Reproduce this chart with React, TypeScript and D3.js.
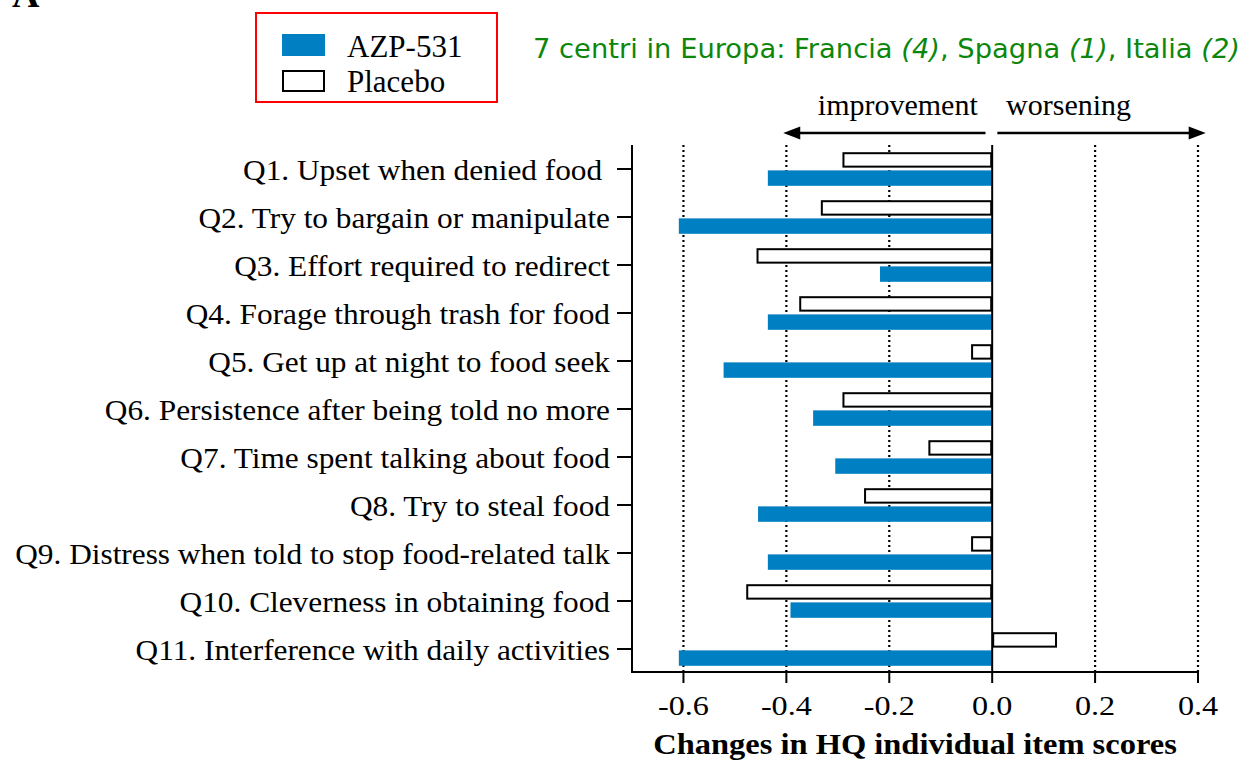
import React from "react";
import * as d3 from "d3";

// HQ items, top to bottom
const categories = [
  "Q1. Upset when denied food ",
  "Q2. Try to bargain or manipulate",
  "Q3. Effort required to redirect",
  "Q4. Forage through trash for food",
  "Q5. Get up at night to food seek",
  "Q6. Persistence after being told no more",
  "Q7. Time spent talking about food",
  "Q8. Try to steal food",
  "Q9. Distress when told to stop food-related talk",
  "Q10. Cleverness in obtaining food",
  "Q11. Interference with daily activities",
];
const seriesNames = ["Placebo", "AZP-531"];
const placeboValues = [-0.291, -0.333, -0.458, -0.375, -0.041, -0.291, -0.124, -0.249, -0.041, -0.478, 0.126];
const azpValues = [-0.436, -0.609, -0.218, -0.436, -0.522, -0.348, -0.305, -0.455, -0.436, -0.392, -0.609];
const xTicks = [-0.6, -0.4, -0.2, 0.0, 0.2, 0.4];

const BLUE = "#0080c3";
const SERIF = "'Liberation Serif', 'Times New Roman', serif";

const App = () => {
  const width = 1243;
  const height = 761;
  const margin = { top: 145, left: 632, right: 45, bottom: 88 };

  const x = d3.scaleLinear().domain([-0.7, 0.4]).range([margin.left, width - margin.right]);
  const y = d3
    .scaleBand()
    .domain(categories)
    .range([margin.top, height - margin.bottom])
    .paddingInner(0.3)
    .paddingOuter(0.15);
  const inner = d3.scaleBand().domain(seriesNames).range([0, y.bandwidth()]).paddingInner(0.15);
  const plotTop = margin.top;
  const plotBottom = height - margin.bottom - 1;

  const tickY = (c) => y(c) + y.bandwidth() / 2;
  const arrowY = 133;

  return (
    <svg
      width={width}
      height={height}
      style={{ position: "absolute", left: 0, top: 0, background: "#fff" }}
      fontFamily={SERIF}
    >
      {/* panel letter, cut at the top */}
      <text x={12} y={7} fontSize={38} fontWeight="bold">A</text>

      {/* legend */}
      <rect x={256} y={13} width={241} height={89} fill="none" stroke="#ff0000" strokeWidth={2} />
      <rect x={282} y={34} width={43} height={22} fill={BLUE} />
      <rect x={283} y={71} width={41} height={20} fill="#fff" stroke="#000" strokeWidth={2} />
      <text x={347} y={57} fontSize={31}>AZP-531</text>
      <text x={347} y={92} fontSize={31}>Placebo</text>

      {/* note */}
      <text
        x={533}
        y={58}
        fontSize={26}
        fill="#0c870c"
        fontFamily="'DejaVu Sans', sans-serif"
        textLength={707}
        lengthAdjust="spacingAndGlyphs"
      >
        7 centri in Europa: Francia <tspan fontStyle="italic">(4)</tspan>, Spagna{" "}
        <tspan fontStyle="italic">(1)</tspan>, Italia <tspan fontStyle="italic">(2)</tspan>
      </text>

      {/* direction arrows */}
      <g stroke="#000" strokeWidth={2.5}>
        <line x1={x(-0.013)} x2={x(-0.39)} y1={arrowY} y2={arrowY} />
        <line x1={x(0.01)} x2={x(0.4)} y1={arrowY} y2={arrowY} />
      </g>
      <polygon
        points={`${x(-0.406)},${arrowY} ${x(-0.406) + 17},${arrowY - 6.5} ${x(-0.406) + 17},${arrowY + 6.5}`}
        fill="#000"
      />
      <polygon
        points={`${x(0.415)},${arrowY} ${x(0.415) - 17},${arrowY - 6.5} ${x(0.415) - 17},${arrowY + 6.5}`}
        fill="#000"
      />
      <text x={x(-0.028)} y={115} fontSize={30} textAnchor="end">improvement</text>
      <text x={x(0.027)} y={115} fontSize={30}>worsening</text>

      {/* dotted reference lines */}
      {xTicks
        .filter((t) => t !== 0)
        .map((t) => (
          <line
            key={t}
            x1={x(t)}
            x2={x(t)}
            y1={plotTop}
            y2={plotBottom}
            stroke="#000"
            strokeWidth={2.2}
            strokeDasharray="2 3"
          />
        ))}

      {/* bars */}
      {categories.map((c, i) => {
        const pv = placeboValues[i];
        const av = azpValues[i];
        return (
          <g key={c}>
            <rect
              x={Math.min(x(pv), x(0)) + 1}
              y={y(c) + inner("Placebo") + 1}
              width={Math.abs(x(pv) - x(0)) - 2}
              height={inner.bandwidth() - 2}
              fill="#fff"
              stroke="#000"
              strokeWidth={2}
            />
            <rect
              x={Math.min(x(av), x(0))}
              y={y(c) + inner("AZP-531")}
              width={Math.abs(x(av) - x(0))}
              height={inner.bandwidth()}
              fill={BLUE}
            />
          </g>
        );
      })}

      {/* zero line */}
      <line x1={x(0)} x2={x(0)} y1={plotTop} y2={plotBottom} stroke="#000" strokeWidth={2} />

      {/* y axis */}
      <line x1={margin.left} x2={margin.left} y1={plotTop} y2={plotBottom + 1} stroke="#000" strokeWidth={2} />
      {categories.map((c) => (
        <g key={"t" + c}>
          <line x1={margin.left - 15} x2={margin.left} y1={tickY(c)} y2={tickY(c)} stroke="#000" strokeWidth={2} />
          <g transform={`translate(${margin.left - 22},${tickY(c) + 10.5})`}>
            <text textAnchor="end" fontSize={29} transform="scale(1.08,1)" style={{ whiteSpace: "pre" }}>
              {c}
            </text>
          </g>
        </g>
      ))}

      {/* x axis */}
      <line x1={margin.left - 1} x2={x(0.4) + 1} y1={plotBottom} y2={plotBottom} stroke="#000" strokeWidth={2} />
      {xTicks.map((t) => (
        <g key={"x" + t} transform={`translate(${x(t)},${plotBottom})`}>
          <line y1={0} y2={11} stroke="#000" strokeWidth={2} />
          <text y={43} textAnchor="middle" fontSize={28} transform="scale(1.15,1)">
            {d3.format(".1f")(t).replace("−", "-")}
          </text>
        </g>
      ))}
      <g transform={`translate(${(margin.left + x(0.4)) / 2},${754})`}>
        <text textAnchor="middle" fontSize={28.5} fontWeight="bold" transform="scale(1.14,1)">
          Changes in HQ individual item scores
        </text>
      </g>
    </svg>
  );
};

export default App;
